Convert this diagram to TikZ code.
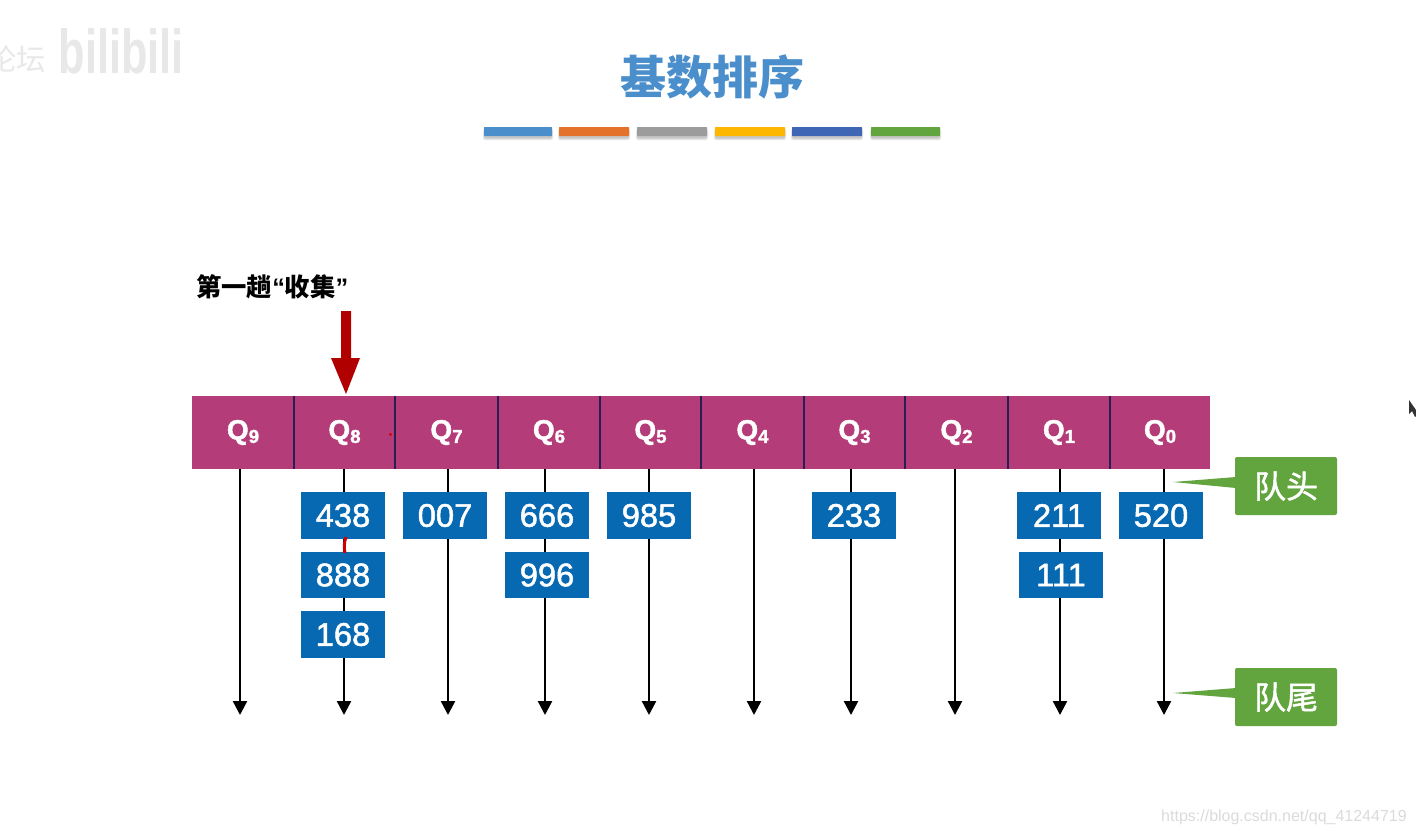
\documentclass[tikz,border=0pt]{standalone}
\usepackage{fontspec}
\setmainfont{Liberation Sans}
\newfontfamily\cjk{Noto Sans CJK SC}
\newfontfamily\cjkm[FakeBold=1.5]{Noto Sans CJK SC}
\newfontfamily\numf[FakeBold=1.5]{Liberation Sans}
\newfontfamily\qf[FakeBold=1.5]{Liberation Sans Bold}
\usetikzlibrary{arrows.meta}
\definecolor{qmag}{HTML}{B43C78}
\definecolor{qdiv}{HTML}{2A1E55}
\definecolor{numblue}{HTML}{0669B2}
\definecolor{tagreen}{HTML}{62A43E}
\definecolor{titleblue}{HTML}{4A8ECC}
\definecolor{arrowred}{HTML}{B00000}
\definecolor{barorange}{HTML}{E5722B}
\definecolor{bargrey}{HTML}{9C9C9C}
\definecolor{baryellow}{HTML}{FDB700}
\definecolor{barblue}{HTML}{3F66B5}
\tikzset{
  x=0.75pt,y=-0.75pt,
  qcell/.style={rectangle,fill=qmag,inner sep=0pt,minimum height=54.75pt,text=white,font=\qf\fontsize{21}{24}\selectfont},
  numbox/.style={rectangle,fill=numblue,inner sep=0pt,minimum width=63pt,minimum height=35pt,text=white,font=\numf\fontsize{24.5}{28}\selectfont},
  tagbox/.style={rectangle,rounded corners=1.5pt,fill=tagreen,inner sep=0pt,minimum width=76.5pt,minimum height=43.5pt,text=white,font=\cjkm\fontsize{24}{28}\selectfont},
  queueline/.style={-{Triangle[length=10.5pt,width=10.5pt]},line width=1.8pt,black},
  divider/.style={line width=1.3pt,qdiv}
}
\newcommand{\qlabel}[1]{\raisebox{-1.5pt}{Q\raisebox{-0.12em}{\fontsize{14}{16}\selectfont #1}}}
\newcommand{\colorbar}[3]{%
  \fill[black!10,rounded corners=1.5pt] (#1-1,129) rectangle (#2+1,140);
  \fill[black!22,rounded corners=1pt] (#1,130) rectangle (#2,138.5);
  \fill[#3,rounded corners=0.5pt] (#1,127) rectangle (#2,136);}
\begin{document}
\begin{tikzpicture}
\useasboundingbox (0,0) rectangle (1416,835);
\fill[white] (0,0) rectangle (1416,835);
% watermarks
\begin{scope}
\clip (0,0) rectangle (60,100);
\node[text=black!9,font=\cjk\fontsize{22}{24}\selectfont] (wmleft) at (17,59) {论坛};
\end{scope}
\node[text=black!9,font=\fontsize{30}{32}\selectfont\bfseries,xscale=1.08,yscale=1.55] (wmbili) at (121,51) {bilibili};
\node[text=black!14,font=\fontsize{12}{14}\selectfont,anchor=east,inner sep=0pt] (wmurl) at (1407,817) {https://blog.csdn.net/qq\_41244719};
% title
\node[text=titleblue,font=\cjk\fontsize{34.5}{38}\selectfont\bfseries] (title) at (712,77) {基数排序};
\colorbar{484}{552}{titleblue}
\colorbar{559}{629}{barorange}
\colorbar{637}{707}{bargrey}
\colorbar{715}{785}{baryellow}
\colorbar{792}{862}{barblue}
\colorbar{871}{940}{tagreen}
% heading and red arrow
\node[anchor=west,text=black,font=\fontsize{19}{22}\selectfont\bfseries,inner sep=0pt] (head) at (196,287) {{\cjk\bfseries 第一趟}“{\cjk\bfseries 收集}”};
\coordinate (redtip) at (346,394);
% queue cells
\foreach \nm/\xa/\xb in {9/192/294,8/294/395,7/395/498,6/498/600,5/600/701,4/701/804,3/804/905,2/905/1008,1/1008/1110,0/1110/1210}{
  \pgfmathsetmacro{\cellw}{(\xb-\xa)*0.75}
  \node[qcell,minimum width=\cellw pt] (q\nm) at ({(\xa+\xb)/2},432.5) {\qlabel{\nm}};
}
\foreach \nm in {9,8,7,6,5,4,3,2,1}{
  \draw[divider] (q\nm.north east) -- (q\nm.south east);
}
% queue lines
\foreach \nm/\xx in {9/240,8/344,7/448,6/545,5/649,4/754,3/851,2/955,1/1060,0/1164}{
  \coordinate (t\nm) at (\xx,469);
  \coordinate (b\nm) at (\xx,715);
  \draw[queueline] (t\nm) -- (b\nm);
}
% keys
\foreach \nm/\xx/\yy/\tx in {a/343/515.5/438,b/343/575/888,c/343/634.5/168,d/445/515.5/007,e/547/515.5/666,f/547/575/996,g/649/515.5/985,h/854/515.5/233,i/1059/515.5/211,j/1061/575/111,k/1161/515.5/520}{
  \node[numbox] (n\nm) at (\xx,\yy) {\raisebox{-1.3pt}{\tx}};
}
% red arrow
\path[fill=arrowred] (341,311) -- (351,311) -- (351,358) -- (360,358) -- (redtip) -- (331,358) -- (341,358) -- cycle;
% red marks
\fill[red!85!black] (390.5,434.5) circle (1.2pt);
\draw[red!80!black,line width=2.2pt] (346,537) .. controls (344,542) and (344,548) .. (345,553);
% tags
\node[tagbox] (head1) at (1286,486) {队头};
\node[tagbox] (tail1) at (1286,697) {队尾};
\fill[tagreen] (1173,482) -- (1236,477) -- (1236,488) -- cycle;
\fill[tagreen] (1173,693) -- (1236,688) -- (1236,698) -- cycle;
% cursor
\fill[black!80] (1409,400) -- (1409,414) -- (1412,411) -- (1415,417) -- (1416,416) -- (1416,410) -- cycle;
\end{tikzpicture}
\end{document}
